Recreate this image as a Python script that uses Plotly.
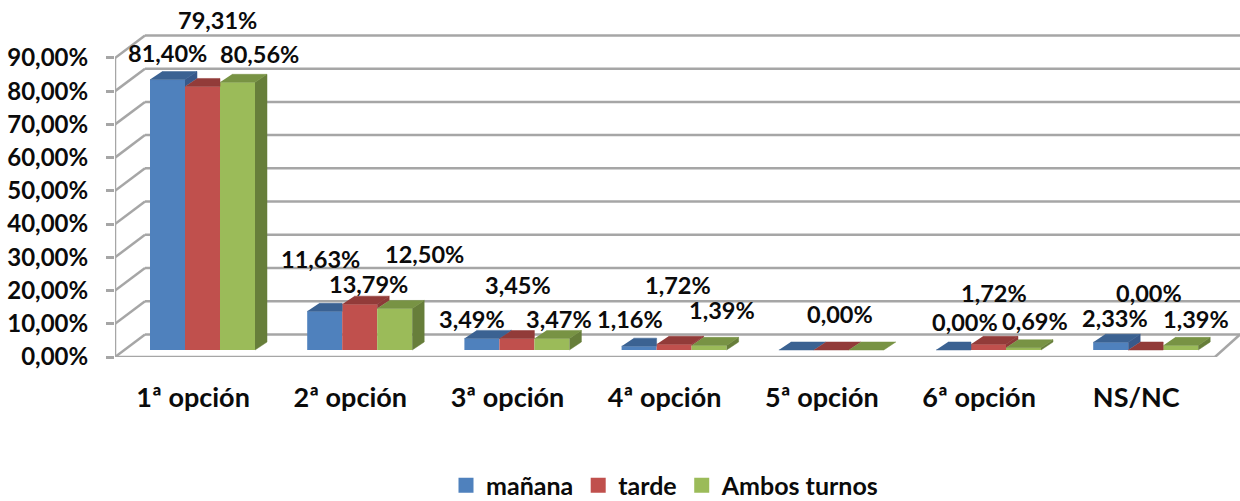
import plotly.graph_objects as go

# ---- data ----
categories = ["1ª opción", "2ª opción", "3ª opción", "4ª opción", "5ª opción", "6ª opción", "NS/NC"]
manana = [81.40, 11.63, 3.49, 1.16, 0.00, 0.00, 2.33]
tarde = [79.31, 13.79, 3.45, 1.72, 0.00, 1.72, 0.00]
ambos = [80.56, 12.50, 3.47, 1.39, 0.00, 0.69, 1.39]
y_ticks = [0, 10, 20, 30, 40, 50, 60, 70, 80, 90]

# ---- layout constants (pixels of the 1240x501 picture) ----
W, H = 1240, 501
PLOT_L, PLOT_B = 115, 356.7
PX_CAT, PX_VAL = 157.2, 3.32
BAR_W = 35 / PX_CAT
FIRST_CENTER_PX = 202.5
BASE = 7.0 / PX_VAL             # bars stand slightly in front of back wall
WALL_DX, WALL_DY = 30 / PX_CAT, 22.5 / PX_VAL
DEP_DX, DEP_DY = 12 / PX_CAT, 8 / PX_VAL
X0 = (PLOT_L - FIRST_CENTER_PX) / PX_CAT
X1 = (W - FIRST_CENTER_PX) / PX_CAT
FLOOR_END = (1215 - FIRST_CENTER_PX) / PX_CAT
GRID = "#A6A6A6"
FONT = "Lato"
INK = "#0b0b0b"

series = [
    ("mañana", manana, "#4F81BD", "#3B6292", "#38598A"),
    ("tarde", tarde, "#C0504D", "#923B39", "#8C3A38"),
    ("Ambos turnos", ambos, "#9BBB59", "#789344", "#677E3A"),
]
# pixel shifts of each data label from its bar top (dx, dy up); None: hidden under another label
label_shift = [
    [(0, 27), (-4, 52), (-10, 19), (-9, 27), None, (11.5, 28), (4, 24)],
    [(14.5, 66), (9, 20), (1, 54), (4, 59), (8.7, 36), (5.5, 51), (3, 57)],
    [(21.5, 28), (30, 54), (7, 19), (13, 35), None, (11.5, 27), (15, 26)],
]

fig = go.Figure()
xs = list(range(len(categories)))

# front faces
for name, vals, front, top, side in series:
    fig.add_trace(go.Bar(x=xs, y=vals, base=BASE, width=BAR_W, name=name,
                         marker=dict(color=front, line=dict(width=0)),
                         showlegend=False, hoverinfo="skip"))

# sides and tops, painted series by series
for k, (name, vals, front, top, side) in enumerate(series):
    sx, sy, tx, ty = [], [], [], []
    nxt = series[k + 1][1] if k + 1 < len(series) else None
    for i, v in enumerate(vals):
        xl = i + (k - 1.5) * BAR_W
        xr = xl + BAR_W
        yv = BASE + v
        low = BASE if nxt is None else BASE + nxt[i]
        if low < yv:
            sx += [xr, xr + DEP_DX, xr + DEP_DX, xr, None]
            sy += [yv, yv + DEP_DY, low + DEP_DY, low, None]
        if nxt is not None and nxt[i] > v:
            tx += [xl, xr, xr, xl + DEP_DX, None]
            ty += [yv, yv, yv + DEP_DY, yv + DEP_DY, None]
        else:
            tx += [xl, xr, xr + DEP_DX, xl + DEP_DX, None]
            ty += [yv, yv, yv + DEP_DY, yv + DEP_DY, None]
    for px, py, col in ((sx, sy, side), (tx, ty, top)):
        fig.add_trace(go.Scatter(x=px, y=py, mode="lines", fill="toself", fillcolor=col,
                                 line=dict(width=0.5, color=col), showlegend=False, hoverinfo="skip"))

# legend keys
for name, vals, front, top, side in series:
    fig.add_trace(go.Scatter(x=[None], y=[None], mode="markers", name=name,
                             marker=dict(symbol="square", size=15, color=front)))

# walls
shapes = []
def line(x0, y0, x1, y1):
    shapes.append(dict(type="line", xref="x", yref="y", x0=x0, y0=y0, x1=x1, y1=y1, layer="below",
                       line=dict(color=GRID, width=2.5)))
for t in y_ticks:
    line(X0, t, X0 + WALL_DX, t + WALL_DY)
    line(X0 + WALL_DX, t + WALL_DY, X1, t + WALL_DY)
line(X0, 0, X0, y_ticks[-1])
line(X0, 0, FLOOR_END, 0)
line(FLOOR_END, 0, X1, WALL_DY)

# data labels
annotations = []
for k, (name, vals, *_rest) in enumerate(series):
    for i, v in enumerate(vals):
        if label_shift[k][i] is None:
            continue
        dx, dy = label_shift[k][i]
        annotations.append(dict(
            x=i + (k - 1) * BAR_W, y=BASE + v, xref="x", yref="y",
            text=f"{v:.2f}".replace(".", ",") + "%", showarrow=False,
            xshift=dx, yshift=dy, xanchor="center", yanchor="middle",
            font=dict(family=FONT, size=23.5, color=INK, weight="bold"),
        ))

fig.update_layout(
    width=W, height=H, autosize=False,
    margin=dict(l=PLOT_L, r=0, t=0, b=H - PLOT_B, pad=0, autoexpand=False),
    paper_bgcolor="white", plot_bgcolor="white",
    barmode="group", bargap=1 - 3 * BAR_W, bargroupgap=0,
    shapes=shapes, annotations=annotations,
    showlegend=True,
    legend=dict(orientation="h", x=(446 - PLOT_L) / (W - PLOT_L), xanchor="left",
                y=(PLOT_B - 485) / PLOT_B, yanchor="middle", bgcolor="rgba(0,0,0,0)",
                font=dict(family=FONT, size=25, color=INK, weight="bold")),
    xaxis=dict(range=[X0, X1], showgrid=False, zeroline=False, showline=False, ticks="",
               tickmode="array", tickvals=[i - 0.06 for i in xs], ticktext=categories,
               ticklabelstandoff=22,
               tickfont=dict(family=FONT, size=27, color=INK, weight="bold")),
    yaxis=dict(range=[0, PLOT_B / PX_VAL], showgrid=False, zeroline=False, showline=False,
               ticks="outside", ticklen=8, tickwidth=2.5, tickcolor=GRID,
               tickmode="array", tickvals=y_ticks,
               ticktext=[f"{t:.2f}".replace(".", ",") + "%" for t in y_ticks],
               ticklabelstandoff=13,
               tickfont=dict(family=FONT, size=24, color=INK, weight="bold")),
)
fig.write_html("out.html", post_script='document.body.style.margin="0";',
               config={"displayModeBar": False})
